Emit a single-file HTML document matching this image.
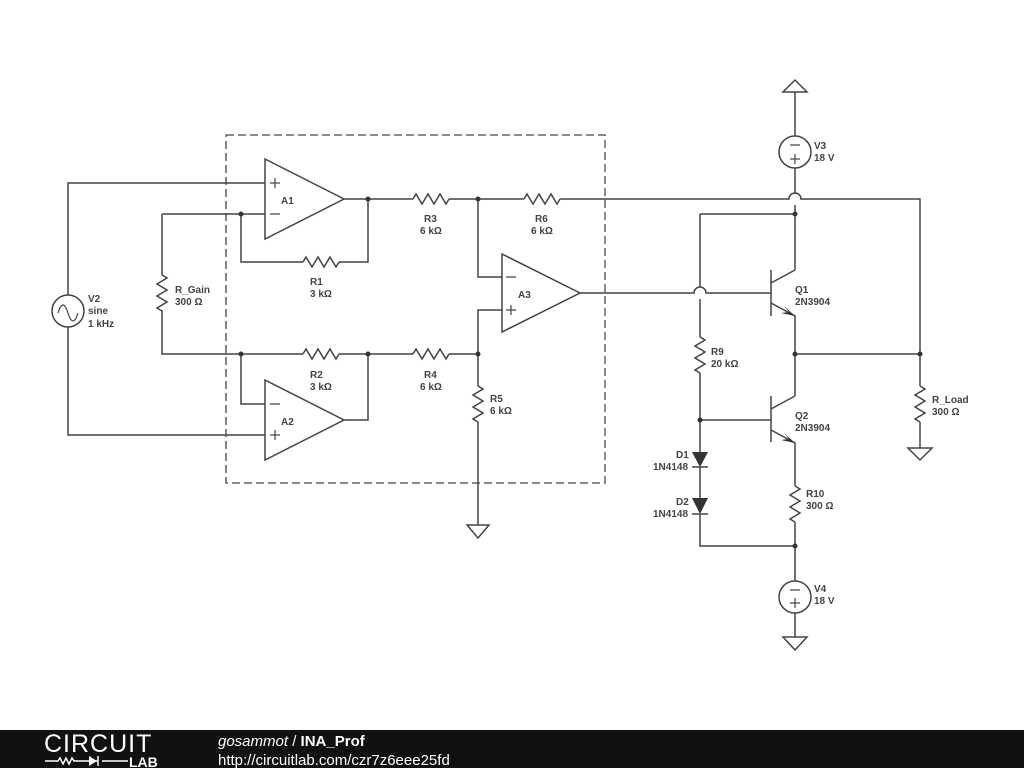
<!DOCTYPE html>
<html><head><meta charset="utf-8"><style>
body{margin:0;width:1024px;height:768px;background:#fff;overflow:hidden;position:relative}
svg{position:absolute;left:0;top:0}
text{font-family:"Liberation Sans",sans-serif;font-size:10px;font-weight:bold;fill:#444}
</style></head><body>
<svg width="1024" height="768" viewBox="0 0 1024 768">
<g fill="none" stroke="#444" stroke-width="1.5">
<rect x="226" y="135" width="379" height="348" stroke-dasharray="8,4" stroke-width="1.3"/>
<!-- A1 -->
<path d="M265,159 L344,199 L265,239 Z"/>
<path d="M68,295 V183 H265 M162,214 H265 M241,214 V262 H303 M339,262 H368 V199 M344,199 H413 M449,199 H524 M560,199 H789 a6,6 0 0 1 12,0 H920 V354"/>
<path d="M303,262 l3,-5 l6,10 l6,-10 l6,10 l6,-10 l6,10 l3,-5"/>
<path d="M413,199 l3,-5 l6,10 l6,-10 l6,10 l6,-10 l6,10 l3,-5"/>
<path d="M524,199 l3,-5 l6,10 l6,-10 l6,10 l6,-10 l6,10 l3,-5"/>
<!-- A3 -->
<path d="M502,254 L580,293 L502,332 Z"/>
<path d="M478,199 V277 H502 M502,310 H478 V386 M478,422 V525"/>
<path d="M478,386 l5,3 l-10,6 l10,6 l-10,6 l10,6 l-10,6 l5,3"/>
<path d="M467,525 H489 L478,538 Z"/>
<path d="M580,293 H694 a6,6 0 0 1 12,0 H771"/>
<!-- A2 -->
<path d="M265,380 L344,420 L265,460 Z"/>
<path d="M68,327 V435 H265 M162,310 V354 H303 M339,354 H413 M449,354 H478 M241,354 V404 H265 M344,420 H368 V354"/>
<path d="M162,214 V275"/>
<path d="M162,275 l5,3 l-10,6 l10,6 l-10,6 l10,6 l-10,6 l5,3"/>
<path d="M303,354 l3,-5 l6,10 l6,-10 l6,10 l6,-10 l6,10 l3,-5"/>
<path d="M413,354 l3,-5 l6,10 l6,-10 l6,10 l6,-10 l6,10 l3,-5"/>
<circle cx="68" cy="311" r="16"/>
<path d="M58,313 q5,-16 10,0 t10,0" stroke-width="1.2"/>
<!-- V3 -->
<path d="M783,92 H807 L795,80 Z M795,92 V136 M795,168 V193 M795,205 V270"/>
<circle cx="795" cy="152" r="16"/>
<path d="M790,145 H800 M790,159 H800 M795,154 V164" stroke-width="1.2"/>
<!-- Q1 -->
<path d="M771,270 V316 M771,283 L795,270 M771,303 L795,316 V396 M795,354 H920"/>
<path d="M700,214 H795 M700,214 V287 M700,299 V337 M700,373 V452 M700,420 H771"/>
<path d="M700,337 l5,3 l-10,6 l10,6 l-10,6 l10,6 l-10,6 l5,3"/>
<!-- Q2 -->
<path d="M771,396 V442 M771,409 L795,396 M771,430 L795,443 V486 M795,522 V581"/>
<path d="M795,486 l5,3 l-10,6 l10,6 l-10,6 l10,6 l-10,6 l5,3"/>
<path d="M920,386 V354 M920,422 V448"/>
<path d="M920,386 l5,3 l-10,6 l10,6 l-10,6 l10,6 l-10,6 l5,3"/>
<path d="M908,448 H932 L920,460 Z"/>
<path d="M700,467 V498 M700,514 V546 H795 M692,467 H708 M692,514 H708"/>
<circle cx="795" cy="597" r="16"/>
<path d="M790,590 H800 M790,603 H800 M795,598 V608" stroke-width="1.2"/>
<path d="M795,613 V637 M783,637 H807 L795,650 Z"/>
</g>
<g fill="#333">
<path d="M692,452 H708 L700,467 Z M692,498 H708 L700,514 Z"/>
<path d="M795,316 L784,306 L789,312 L781,313 Z M795,443 L784,433 L789,439 L781,440 Z"/>
<circle cx="241" cy="214" r="2.5"/><circle cx="368" cy="199" r="2.5"/><circle cx="478" cy="199" r="2.5"/>
<circle cx="241" cy="354" r="2.5"/><circle cx="368" cy="354" r="2.5"/><circle cx="478" cy="354" r="2.5"/>
<circle cx="795" cy="214" r="2.5"/><circle cx="795" cy="354" r="2.5"/><circle cx="920" cy="354" r="2.5"/>
<circle cx="700" cy="420" r="2.5"/><circle cx="795" cy="546" r="2.5"/>
</g>
<g stroke="#444" stroke-width="1.2">
<path d="M270,183 h10 M275,178 v10 M270,214 h10 M270,404 h10 M270,435 h10 M275,430 v10 M506,277 h10 M506,310 h10 M511,305 v10"/>
</g>
<text x="281" y="204">A1</text><text x="281" y="425">A2</text><text x="518" y="298">A3</text>
<text x="310" y="285">R1</text><text x="310" y="297">3 kΩ</text>
<text x="310" y="378">R2</text><text x="310" y="390">3 kΩ</text>
<text x="424" y="222">R3</text><text x="420" y="234">6 kΩ</text>
<text x="535" y="222">R6</text><text x="531" y="234">6 kΩ</text>
<text x="424" y="378">R4</text><text x="420" y="390">6 kΩ</text>
<text x="490" y="402">R5</text><text x="490" y="414">6 kΩ</text>
<text x="175" y="293">R_Gain</text><text x="175" y="305">300 Ω</text>
<text x="88" y="302">V2</text><text x="88" y="314">sine</text><text x="88" y="327">1 kHz</text>
<text x="814" y="149">V3</text><text x="814" y="161">18 V</text>
<text x="795" y="293">Q1</text><text x="795" y="305">2N3904</text>
<text x="795" y="419">Q2</text><text x="795" y="431">2N3904</text>
<text x="711" y="355">R9</text><text x="711" y="367">20 kΩ</text>
<text x="932" y="403">R_Load</text><text x="932" y="415">300 Ω</text>
<text x="676" y="458">D1</text><text x="653" y="470">1N4148</text>
<text x="676" y="505">D2</text><text x="653" y="517">1N4148</text>
<text x="806" y="497">R10</text><text x="806" y="509">300 Ω</text>
<text x="814" y="592">V4</text><text x="814" y="604">18 V</text>
<rect x="0" y="730" width="1024" height="38" fill="#111"/>
<text x="44" y="752" style="font-size:25px;font-weight:normal;fill:#fff;letter-spacing:1px">CIRCUIT</text>
<path d="M45,761 H58 l2,-3 l3,6 l3,-6 l3,6 l3,-6 l2,3 H98 M98,756 v10 M102,761 H128" stroke="#fff" stroke-width="1.5" fill="none"/>
<path d="M89,756 L97,761 L89,766 Z" fill="#fff"/>
<text x="129" y="767" style="font-size:14px;font-weight:bold;fill:#fff">LAB</text>
<text x="218" y="746" style="font-size:15px;font-weight:normal;fill:#fff"><tspan font-style="italic">gosammot</tspan> / <tspan font-weight="bold">INA_Prof</tspan></text>
<text x="218" y="765" style="font-size:15px;font-weight:normal;fill:#fff">http://circuitlab.com/czr7z6eee25fd</text>
</svg>
</body></html>
